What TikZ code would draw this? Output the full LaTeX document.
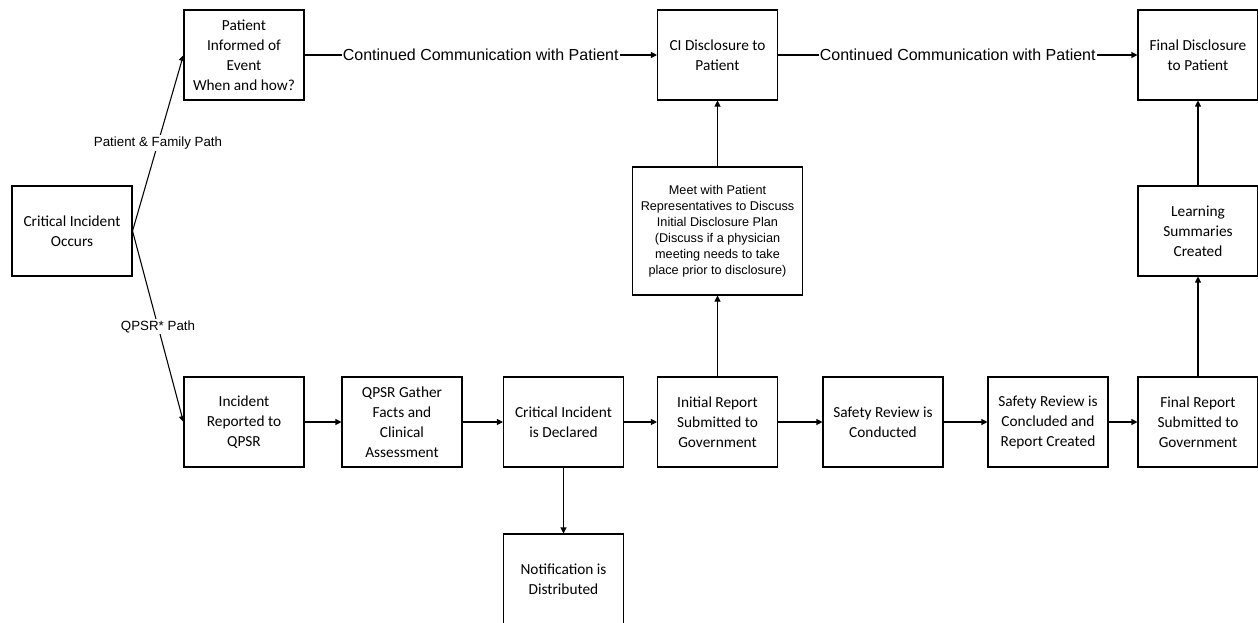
\documentclass[tikz,border=0pt]{standalone}
\usepackage{fontspec}
\setmainfont{Carlito}
\newfontfamily\arialfont{Liberation Sans}
\usetikzlibrary{arrows.meta}
\tikzset{
  stepbox/.style={draw, line width=0.8pt, minimum width=90pt, minimum height=67.5pt,
    align=center, inner sep=1pt, font=\fontsize{11.5}{15}\selectfont},
  meetbox/.style={draw, line width=0.8pt, minimum width=128pt, minimum height=96pt,
    align=center, inner sep=1pt, font=\arialfont\fontsize{9.5}{12}\selectfont},
  flow/.style={line width=0.8pt, -{Triangle[length=4.5pt,width=4.5pt]}},
  pathlabel/.style={fill=white, inner sep=1pt, font=\arialfont\fontsize{10}{11}\selectfont},
  commlabel/.style={fill=white, inner sep=1pt, font=\arialfont\fontsize{12}{14}\selectfont}
}
\begin{document}
\begin{tikzpicture}[x=0.75pt,y=-0.75pt]
  \useasboundingbox (0,0) rectangle (1258,622);
  %start
  \node[stepbox] (occurs) at (72,231) {Critical Incident\\Occurs};
  %patient side
  \node[stepbox] (informed) at (244,55) {Patient\\Informed of\\Event\\When and how?};
  \node[stepbox] (cidisc) at (717.5,55) {CI Disclosure to\\Patient};
  \node[stepbox] (finaldisc) at (1198,55) {Final Disclosure\\to Patient};
  \node[meetbox] (meet) at (717.5,231) {Meet with Patient\\Representatives to Discuss\\Initial Disclosure Plan\\(Discuss if a physician\\meeting needs to take\\place prior to disclosure)};
  \node[stepbox] (learning) at (1198,231) {Learning\\Summaries\\Created};
  %qpsr side
  \node[stepbox] (reported) at (244,422) {Incident\\Reported to\\QPSR};
  \node[stepbox] (gather) at (402,422) {QPSR Gather\\Facts and\\Clinical\\Assessment};
  \node[stepbox] (declared) at (563.5,422) {Critical Incident\\is Declared};
  \node[stepbox] (initial) at (717.5,422) {Initial Report\\Submitted to\\Government};
  \node[stepbox] (conducted) at (883,422) {Safety Review is\\Conducted};
  \node[stepbox] (concluded) at (1048,422) {Safety Review is\\Concluded and\\Report Created};
  \node[stepbox] (finalrep) at (1198,422) {Final Report\\Submitted to\\Government};
  \node[stepbox] (notif) at (563.5,579) {Notification is\\Distributed};
  %paths
  \draw[flow] (occurs.east) -- node[pathlabel] {Patient \& Family Path} (informed.west);
  \draw[flow] (occurs.east) -- node[pathlabel] {QPSR* Path} (reported.west);
  \draw[flow] (informed) -- node[commlabel] {Continued Communication with Patient} (cidisc);
  \draw[flow] (cidisc) -- node[commlabel] {Continued Communication with Patient} (finaldisc);
  %bottom row
  \draw[flow] (reported) -- (gather);
  \draw[flow] (gather) -- (declared);
  \draw[flow] (declared) -- (initial);
  \draw[flow] (initial) -- (conducted);
  \draw[flow] (conducted) -- (concluded);
  \draw[flow] (concluded) -- (finalrep);
  \draw[flow] (declared) -- (notif);
  %up
  \draw[flow] (initial) -- (meet);
  \draw[flow] (meet) -- (cidisc);
  \draw[flow] (finalrep) -- (learning);
  \draw[flow] (learning) -- (finaldisc);
\end{tikzpicture}
\end{document}
